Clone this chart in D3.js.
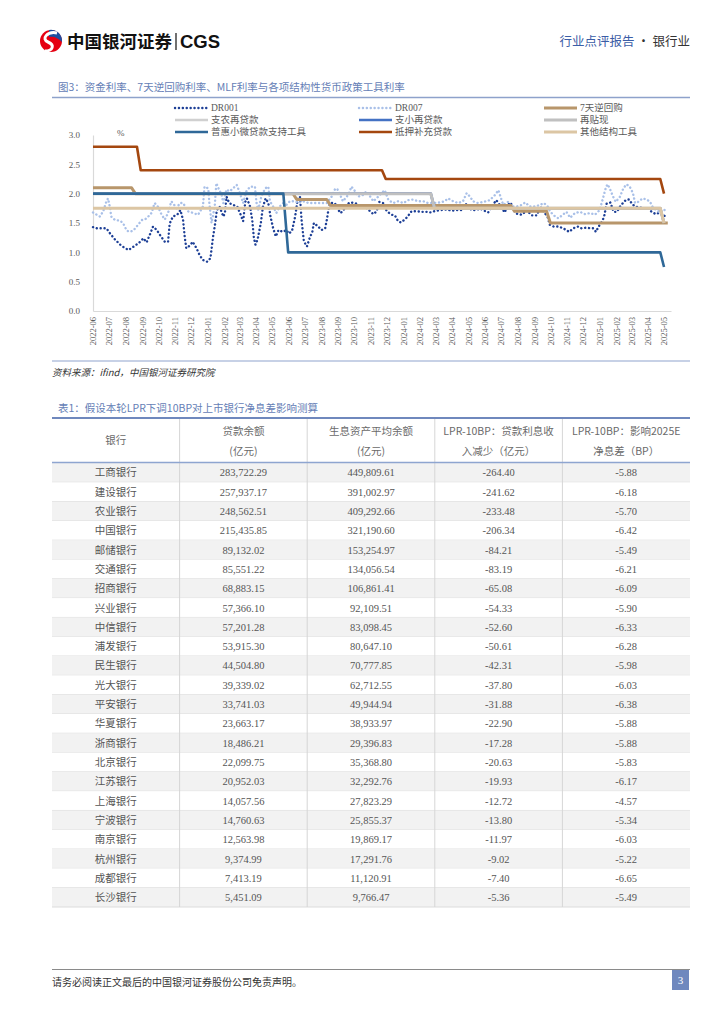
<!DOCTYPE html>
<html>
<head>
<meta charset="utf-8">
<script src="https://cdn.jsdelivr.net/npm/d3@7"></script>
<style>
  body { margin: 0; background: #fff; }
  svg text { font-family: "Liberation Serif", "Noto Sans CJK SC", serif; }
  .cjk { font-family: "Noto Sans CJK SC", sans-serif; }
</style>
</head>
<body>
<script>
// 资金利率
const dr001 = [
  ["2022-06-01",1.43],["2022-06-08",1.41],["2022-06-17",1.41],["2022-06-26",1.41],["2022-07-03",1.32],
  ["2022-07-12",1.22],["2022-07-24",1.11],["2022-08-06",1.04],["2022-08-18",1.11],["2022-08-28",1.18],
  ["2022-09-03",1.24],["2022-09-09",1.17],["2022-09-15",1.30],["2022-09-21",1.44],["2022-09-28",1.38],
  ["2022-10-05",1.28],["2022-10-13",1.18],["2022-10-19",1.18],["2022-10-22",1.49],["2022-10-28",1.61],
  ["2022-11-05",1.64],["2022-11-11",1.72],["2022-11-16",1.55],["2022-11-19",1.27],["2022-11-22",1.07],
  ["2022-11-29",1.12],["2022-12-04",1.18],["2022-12-11",1.07],["2022-12-17",0.95],["2022-12-23",0.87],
  ["2022-12-31",0.84],["2023-01-06",0.90],["2023-01-11",1.27],["2023-01-15",1.50],["2023-01-18",1.72],
  ["2023-01-23",1.78],["2023-01-30",1.61],["2023-02-02",1.67],["2023-02-05",1.95],["2023-02-10",1.84],
  ["2023-02-17",1.81],["2023-02-25",1.78],["2023-03-03",1.65],["2023-03-08",1.53],["2023-03-12",1.86],
  ["2023-03-15",1.92],["2023-03-21",1.78],["2023-03-25",1.55],["2023-03-28",1.25],["2023-03-31",1.13],
  ["2023-04-04",1.22],["2023-04-10",1.50],["2023-04-14",1.78],["2023-04-19",1.92],["2023-04-24",1.84],
  ["2023-04-28",1.61],["2023-05-03",1.41],["2023-05-08",1.27],["2023-05-13",1.38],["2023-05-21",1.35],
  ["2023-05-28",1.38],["2023-06-01",1.32],["2023-06-07",1.36],["2023-06-13",1.61],["2023-06-18",1.92],
  ["2023-06-22",1.95],["2023-06-25",1.55],["2023-06-27",1.38],["2023-06-29",1.21],["2023-07-03",1.12],
  ["2023-07-05",1.10],["2023-07-10",1.24],["2023-07-15",1.35],["2023-07-18",1.50],["2023-07-26",1.44],
  ["2023-08-01",1.38],["2023-08-08",1.41],["2023-08-11",1.55],["2023-08-14",1.72],["2023-08-17",1.84],
  ["2023-08-26",1.84],["2023-09-05",1.67],["2023-09-10",1.70],["2023-09-17",1.81],["2023-09-23",1.85],
  ["2023-10-03",1.84],["2023-10-12",1.80],["2023-10-21",1.78],["2023-10-31",1.70],["2023-11-06",1.65],
  ["2023-11-12",1.70],["2023-11-17",1.86],["2023-11-24",1.84],["2023-12-01",1.70],["2023-12-10",1.64],
  ["2023-12-16",1.63],["2023-12-22",1.53],["2023-12-27",1.51],["2024-01-02",1.55],["2024-01-08",1.60],
  ["2024-01-16",1.70],["2024-01-26",1.70],["2024-02-04",1.69],["2024-02-13",1.69],["2024-02-21",1.68],
  ["2024-02-27",1.70],["2024-03-09",1.72],["2024-03-22",1.73],["2024-03-31",1.71],["2024-04-09",1.72],
  ["2024-04-18",1.72],["2024-04-28",1.83],["2024-05-07",1.72],["2024-05-16",1.72],["2024-05-23",1.75],
  ["2024-05-28",1.72],["2024-06-07",1.68],["2024-06-16",1.81],["2024-06-22",1.89],["2024-06-27",1.83],
  ["2024-07-05",1.72],["2024-07-08",1.68],["2024-07-14",1.81],["2024-07-19",1.85],["2024-07-24",1.72],
  ["2024-07-30",1.66],["2024-08-09",1.64],["2024-08-18",1.72],["2024-08-27",1.63],["2024-09-06",1.63],
  ["2024-09-12",1.78],["2024-09-19",1.69],["2024-09-26",1.60],["2024-09-30",1.47],["2024-10-07",1.44],
  ["2024-10-16",1.44],["2024-10-25",1.41],["2024-11-05",1.35],["2024-11-13",1.41],["2024-11-22",1.44],
  ["2024-11-28",1.41],["2024-12-07",1.42],["2024-12-15",1.41],["2024-12-20",1.41],["2024-12-25",1.35],
  ["2024-12-30",1.44],["2025-01-05",1.52],["2025-01-09",1.60],["2025-01-14",1.83],["2025-01-21",1.85],
  ["2025-01-27",1.69],["2025-02-02",1.69],["2025-02-08",1.78],["2025-02-15",1.86],["2025-02-20",1.90],
  ["2025-02-25",1.90],["2025-03-02",1.83],["2025-03-08",1.78],["2025-03-14",1.77],["2025-03-23",1.75],
  ["2025-04-01",1.75],["2025-04-08",1.69],["2025-04-16",1.65],["2025-04-23",1.68],["2025-05-01",1.63],
  ["2025-05-07",1.58]
];
const dr007 = [
  ["2022-06-01",1.68],["2022-06-08",1.64],["2022-06-14",1.61],["2022-06-20",1.70],["2022-06-25",1.84],
  ["2022-06-29",1.92],["2022-07-03",1.75],["2022-07-05",1.61],["2022-07-12",1.55],["2022-07-21",1.54],
  ["2022-07-27",1.50],["2022-08-03",1.37],["2022-08-09",1.35],["2022-08-15",1.37],["2022-08-24",1.47],
  ["2022-08-31",1.55],["2022-09-06",1.56],["2022-09-12",1.61],["2022-09-18",1.67],["2022-09-24",1.84],
  ["2022-09-30",1.78],["2022-10-07",1.64],["2022-10-13",1.56],["2022-10-19",1.67],["2022-10-25",1.87],
  ["2022-10-28",1.84],["2022-11-04",1.75],["2022-11-10",1.84],["2022-11-16",1.84],["2022-11-25",1.70],
  ["2022-12-05",1.67],["2022-12-14",1.64],["2022-12-23",1.78],["2022-12-26",2.12],["2023-01-02",2.09],
  ["2023-01-04",1.84],["2023-01-08",1.50],["2023-01-14",1.78],["2023-01-17",2.18],["2023-01-22",2.07],
  ["2023-01-27",1.98],["2023-01-30",1.84],["2023-02-05",2.07],["2023-02-11",2.04],["2023-02-17",2.09],
  ["2023-02-24",2.15],["2023-03-02",2.01],["2023-03-08",1.84],["2023-03-14",2.04],["2023-03-21",2.12],
  ["2023-03-30",2.12],["2023-04-02",1.84],["2023-04-05",1.72],["2023-04-11",1.95],["2023-04-18",2.09],
  ["2023-04-24",2.12],["2023-04-27",1.87],["2023-05-03",1.78],["2023-05-09",1.67],["2023-05-15",1.78],
  ["2023-05-22",1.84],["2023-05-28",1.81],["2023-06-03",1.87],["2023-06-13",1.87],["2023-06-19",1.84],
  ["2023-06-28",1.87],["2023-07-08",1.84],["2023-07-17",1.84],["2023-07-29",1.84],["2023-08-11",1.84],
  ["2023-08-20",1.95],["2023-08-26",2.07],["2023-08-30",2.09],["2023-09-05",1.98],["2023-09-10",1.87],
  ["2023-09-20",1.98],["2023-09-26",2.12],["2023-10-03",2.04],["2023-10-09",1.95],["2023-10-18",1.98],
  ["2023-10-24",2.04],["2023-10-31",1.95],["2023-11-06",1.87],["2023-11-15",1.95],["2023-11-21",2.01],
  ["2023-11-27",2.06],["2023-12-04",1.89],["2023-12-13",1.84],["2023-12-22",1.87],["2024-01-01",1.84],
  ["2024-01-10",1.89],["2024-01-19",1.90],["2024-01-29",1.87],["2024-02-07",1.87],["2024-02-16",1.84],
  ["2024-02-25",1.84],["2024-03-09",1.85],["2024-03-18",1.87],["2024-03-24",1.92],["2024-04-03",1.87],
  ["2024-04-12",1.84],["2024-04-21",1.87],["2024-04-28",2.01],["2024-05-04",1.95],["2024-05-10",1.87],
  ["2024-05-19",1.84],["2024-05-29",1.86],["2024-06-10",1.89],["2024-06-20",1.98],["2024-06-26",2.06],
  ["2024-06-30",1.95],["2024-07-05",1.81],["2024-07-14",1.86],["2024-07-21",1.78],["2024-07-30",1.78],
  ["2024-08-09",1.81],["2024-08-15",1.85],["2024-08-24",1.78],["2024-09-03",1.78],["2024-09-12",1.81],
  ["2024-09-19",1.84],["2024-09-26",1.78],["2024-10-01",1.69],["2024-10-10",1.61],["2024-10-16",1.58],
  ["2024-10-24",1.64],["2024-10-31",1.69],["2024-11-07",1.59],["2024-11-16",1.67],["2024-11-25",1.69],
  ["2024-12-05",1.65],["2024-12-14",1.67],["2024-12-23",1.64],["2025-01-01",1.72],["2025-01-08",1.95],
  ["2025-01-13",2.12],["2025-01-16",2.16],["2025-01-21",2.06],["2025-01-26",1.95],["2025-01-31",1.86],
  ["2025-02-08",1.95],["2025-02-14",2.09],["2025-02-20",2.16],["2025-02-26",2.12],["2025-03-04",2.01],
  ["2025-03-08",1.84],["2025-03-14",1.86],["2025-03-22",1.92],["2025-03-30",1.90],["2025-04-05",1.86],
  ["2025-04-11",1.75],["2025-04-17",1.72],["2025-04-25",1.67],["2025-05-03",1.73]
];
// 政策利率（阶梯）
const reverseRepo7d = [
  ["2022-06-01",2.10],["2022-08-12",2.10],["2022-08-19",2.00],["2023-06-09",2.00],["2023-06-16",1.90],
  ["2023-08-11",1.90],["2023-08-18",1.80],["2024-07-19",1.80],["2024-07-26",1.70],["2024-09-24",1.70],
  ["2024-10-01",1.50],["2025-05-08",1.50]
];
const agriRelending = [["2022-06-01",2.00],["2024-02-21",2.00],["2024-02-28",1.75],["2025-04-24",1.75],["2025-05-01",1.50]];
const smallRelending = [["2022-06-01",2.00],["2024-02-21",2.00],["2024-02-28",1.75],["2025-04-24",1.75],["2025-05-01",1.50]];
const rediscount = [["2022-06-01",2.00],["2024-02-21",2.00],["2024-02-28",1.75],["2025-04-24",1.75],["2025-05-01",1.50]];
const microLoanTool = [["2022-06-01",2.00],["2023-05-22",2.00],["2023-05-31",1.00],["2025-04-24",1.00],["2025-05-01",0.75]];
const psl = [
  ["2022-06-01",2.80],["2022-08-22",2.80],["2022-08-29",2.40],["2023-11-22",2.40],["2023-11-29",2.25],
  ["2025-04-24",2.25],["2025-05-01",2.00]
];
const otherTools = [["2022-06-01",1.75],["2025-04-24",1.75],["2025-05-01",1.50]];

const seriesNames = ["DR001","DR007","7天逆回购","支农再贷款","支小再贷款","再贴现","普惠小微贷款支持工具","抵押补充贷款","其他结构工具"];
const seriesData = [dr001, dr007, reverseRepo7d, agriRelending, smallRelending, rediscount, microLoanTool, psl, otherTools];

const xTickLabels = ["2022-06","2022-07","2022-08","2022-09","2022-10","2022-11","2022-12","2023-01","2023-02",
  "2023-03","2023-04","2023-05","2023-06","2023-07","2023-08","2023-09","2023-10","2023-11","2023-12",
  "2024-01","2024-02","2024-03","2024-04","2024-05","2024-06","2024-07","2024-08","2024-09","2024-10",
  "2024-11","2024-12","2025-01","2025-02","2025-03","2025-04","2025-05"];
const yTicks = [0, 0.5, 1.0, 1.5, 2.0, 2.5, 3.0];

// 表格
const banks = ["工商银行","建设银行","农业银行","中国银行","邮储银行","交通银行","招商银行","兴业银行","中信银行",
  "浦发银行","民生银行","光大银行","平安银行","华夏银行","浙商银行","北京银行","江苏银行","上海银行",
  "宁波银行","南京银行","杭州银行","成都银行","长沙银行"];
const loans = [283722.29,257937.17,248562.51,215435.85,89132.02,85551.22,68883.15,57366.10,57201.28,53915.30,
  44504.80,39339.02,33741.03,23663.17,18486.21,22099.75,20952.03,14057.56,14760.63,12563.98,9374.99,7413.19,5451.09];
const assets = [449809.61,391002.97,409292.66,321190.60,153254.97,134056.54,106861.41,92109.51,83098.45,80647.10,
  70777.85,62712.55,49944.94,38933.97,29396.83,35368.80,32292.76,27823.29,25855.37,19869.17,17291.76,11120.91,9766.47];
const incomeDrop = [-264.40,-241.62,-233.48,-206.34,-84.21,-83.19,-65.08,-54.33,-52.60,-50.61,-42.31,-37.80,-31.88,
  -22.90,-17.28,-20.63,-19.93,-12.72,-13.80,-11.97,-9.02,-7.40,-5.36];
const nimImpact = [-5.88,-6.18,-5.70,-6.42,-5.49,-6.21,-6.09,-5.90,-6.33,-6.28,-5.98,-6.03,-6.38,-5.88,-5.88,-5.83,
  -6.17,-4.57,-5.34,-6.03,-5.22,-6.65,-5.49];
const tableHeaders = [["银行"],["贷款余额","(亿元)"],["生息资产平均余额","(亿元)"],["LPR-10BP：贷款利息收","入减少（亿元）"],["LPR-10BP：影响2025E","净息差（BP）"]];

// ---------- 画布
const svg = d3.select("body").append("svg").attr("width", 724).attr("height", 1024);

// 页眉
const logo = svg.append("g").attr("transform", "translate(51,41)");
logo.append("circle").attr("r", 11).attr("fill", "#e50012");
logo.append("path").attr("d", "M-2,-11 A11,11 0 0 1 11,1 C7,-3 3,-5 -2,-4 Z").attr("fill", "#1d4fa0");
logo.append("path").attr("d", "M6,-8 C-4,-10 -10,-2 -3,1 C4,4 2,10 -6,10")
  .attr("fill", "none").attr("stroke", "#fff").attr("stroke-width", 3);
svg.append("text").attr("class", "cjk").attr("x", 67).attr("y", 48)
  .attr("font-size", 17.5).attr("font-weight", 700).attr("fill", "#111").text("中国银河证券");
svg.append("line").attr("x1", 176).attr("x2", 176).attr("y1", 33).attr("y2", 50).attr("stroke", "#111").attr("stroke-width", 1.2);
svg.append("text").attr("x", 180).attr("y", 48).style("font-family", "Liberation Sans, Arial")
  .attr("font-size", 18.5).attr("font-weight", 700).attr("fill", "#111").text("CGS");
const hr = svg.append("text").attr("class", "cjk").attr("x", 690).attr("y", 46)
  .attr("text-anchor", "end").attr("font-size", 12.5);
hr.append("tspan").attr("fill", "#3a5da6").text("行业点评报告");
hr.append("tspan").attr("fill", "#333").text(" · 银行业");

// 图标题
svg.append("text").attr("class", "cjk").attr("x", 58).attr("y", 91).attr("font-size", 10.5)
  .attr("fill", "#6580b6").text("图3：资金利率、7天逆回购利率、MLF利率与各项结构性货币政策工具利率");
svg.append("line").attr("x1", 52).attr("x2", 690).attr("y1", 97.5).attr("y2", 97.5)
  .attr("stroke", "#8ea2cb").attr("stroke-width", 1.5);

// ---------- 图表
const parse = d3.timeParse("%Y-%m-%d");
const parseMonth = d3.timeParse("%Y-%m");
const x = d3.scaleTime().domain([parse("2022-06-01"), parse("2025-05-14")]).range([93, 671]);
const y = d3.scaleLinear().domain([0, 3]).range([311, 135]);

const styles = [
  { color: "#1d3f96", width: 2.4, dash: "0.1 3.8" },
  { color: "#a9c0e8", width: 2.4, dash: "0.1 3.8" },
  { color: "#b8966b", width: 3 },
  { color: "#d0d0d0", width: 2.6 },
  { color: "#4472c4", width: 2.6 },
  { color: "#c0c0c0", width: 3 },
  { color: "#2f6898", width: 2.6 },
  { color: "#a4470f", width: 2.6 },
  { color: "#dcc6a4", width: 3 }
];

const line = d3.line().x(d => x(parse(d[0]))).y(d => y(d[1]));

const yAxis = svg.append("g").attr("transform", "translate(93,0)")
  .call(d3.axisLeft(y).tickValues(yTicks).tickFormat(d3.format(".1f")).tickSize(0).tickPadding(13));
yAxis.select(".domain").attr("stroke", "#d9d9d9").attr("stroke-width", 1.2);
yAxis.selectAll("text").attr("font-size", 9).attr("fill", "#595959")
  .style("font-family", "Liberation Serif, serif");

const xAxis = svg.append("g").attr("transform", "translate(0,311)")
  .call(d3.axisBottom(x).tickValues(xTickLabels.map(parseMonth)).tickFormat(d3.timeFormat("%Y-%m")).tickSize(0));
xAxis.select(".domain").attr("stroke", "#d9d9d9").attr("stroke-width", 1.2);
xAxis.selectAll("text").attr("font-size", 8.5).attr("fill", "#595959")
  .style("font-family", "Liberation Serif, serif")
  .attr("text-anchor", "end").attr("transform", "rotate(-90)")
  .attr("x", -6).attr("y", 0).attr("dy", "0.32em");

svg.append("text").attr("x", 117).attr("y", 136).attr("font-size", 9).attr("fill", "#595959").text("%");

svg.append("g").selectAll("path").data(seriesData).join("path")
  .attr("d", line).attr("fill", "none")
  .attr("stroke", (d, i) => styles[i].color)
  .attr("stroke-width", (d, i) => styles[i].width)
  .attr("stroke-dasharray", (d, i) => styles[i].dash || null)
  .attr("stroke-linecap", (d, i) => styles[i].dash ? "round" : "butt")
  .attr("stroke-linejoin", "round");

// 图例
const legendCols = [175, 359, 544], legendRows = [108, 120, 132];
const lg = svg.append("g").selectAll("g").data(seriesNames).join("g")
  .attr("transform", (d, i) => `translate(${legendCols[i % 3]},${legendRows[Math.floor(i / 3)]})`);
lg.append("line").attr("x1", 0).attr("x2", 33)
  .attr("stroke", (d, i) => styles[i].color)
  .attr("stroke-width", (d, i) => styles[i].width)
  .attr("stroke-dasharray", (d, i) => styles[i].dash || null)
  .attr("stroke-linecap", (d, i) => styles[i].dash ? "round" : "butt");
lg.append("text").attr("x", 36).attr("dy", "0.35em").attr("font-size", 9.5).attr("fill", "#595959").text(d => d);

// 来源
svg.append("line").attr("x1", 52).attr("x2", 690).attr("y1", 361).attr("y2", 361)
  .attr("stroke", "#b5c2de").attr("stroke-width", 1.5);
svg.append("text").attr("class", "cjk").attr("x", 52).attr("y", 376).attr("font-size", 9.5)
  .attr("font-style", "italic").attr("fill", "#333").text("资料来源：ifind，中国银河证券研究院");

// ---------- 表格
svg.append("text").attr("class", "cjk").attr("x", 58).attr("y", 412).attr("font-size", 10.5)
  .attr("fill", "#6580b6").text("表1：假设本轮LPR下调10BP对上市银行净息差影响测算");

const colX = d3.scaleBand().domain(d3.range(5)).range([52, 690]);
const rowY = d3.scaleBand().domain(banks).range([463, 907]);
const loc = d3.formatLocale({ decimal: ".", thousands: ",", grouping: [3], currency: ["", ""], minus: "-" });
const fmt2 = loc.format(",.2f");
const fmtN = loc.format(".2f");

const rows = svg.append("g").selectAll("g").data(banks).join("g")
  .attr("transform", d => `translate(0,${rowY(d)})`);
rows.append("rect").attr("x", 52).attr("width", 638).attr("height", rowY.bandwidth())
  .attr("fill", (d, i) => i % 2 === 0 ? "#f2f2f2" : "#fff");
rows.append("line").attr("x1", 52).attr("x2", 690).attr("y1", rowY.bandwidth()).attr("y2", rowY.bandwidth())
  .attr("stroke", "#dcdcdc").attr("stroke-width", 1);
const cells = (d, i) => [d, fmt2(loans[i]), fmt2(assets[i]), fmtN(incomeDrop[i]), fmtN(nimImpact[i])];
rows.selectAll("text").data((d, i) => cells(d, i)).join("text")
  .attr("class", (d, j) => j === 0 ? "cjk" : null)
  .attr("x", (d, j) => colX(j) + colX.bandwidth() / 2)
  .attr("y", rowY.bandwidth() / 2).attr("dy", "0.36em")
  .attr("text-anchor", "middle").attr("font-size", 10.5).attr("fill", "#555")
  .text(d => d);

// 列分隔线
svg.append("g").selectAll("line").data(d3.range(1, 5)).join("line")
  .attr("x1", j => colX(j)).attr("x2", j => colX(j)).attr("y1", 418).attr("y2", 907)
  .attr("stroke", "#d6d6d6").attr("stroke-width", 1);

// 表头
const hdr = svg.append("g").selectAll("text").data(tableHeaders).join("text")
  .attr("class", "cjk").attr("text-anchor", "middle").attr("font-size", 10.5).attr("fill", "#6a6a6a");
hdr.selectAll("tspan").data(d => d).join("tspan")
  .attr("x", function () { return colX(tableHeaders.indexOf(d3.select(this.parentNode).datum())) + colX.bandwidth() / 2; })
  .attr("y", (d, k, n) => n.length === 1 ? 444 : 435 + k * 20)
  .text(d => d);

svg.append("line").attr("x1", 52).attr("x2", 690).attr("y1", 418).attr("y2", 418)
  .attr("stroke", "#6f88bd").attr("stroke-width", 2);
svg.append("line").attr("x1", 52).attr("x2", 690).attr("y1", 462.5).attr("y2", 462.5)
  .attr("stroke", "#8ea5d0").attr("stroke-width", 1.5);

// ---------- 页脚
svg.append("line").attr("x1", 52).attr("x2", 690).attr("y1", 969.5).attr("y2", 969.5)
  .attr("stroke", "#8a8a8a").attr("stroke-width", 1);
svg.append("text").attr("class", "cjk").attr("x", 52).attr("y", 986).attr("font-size", 10)
  .attr("fill", "#333").text("请务必阅读正文最后的中国银河证券股份公司免责声明。");
svg.append("rect").attr("x", 672).attr("y", 970).attr("width", 17).attr("height", 20).attr("fill", "#6f88be");
svg.append("text").attr("x", 680.5).attr("y", 984).attr("text-anchor", "middle").attr("font-size", 11)
  .attr("fill", "#fff").text("3");
</script>
</body>
</html>
